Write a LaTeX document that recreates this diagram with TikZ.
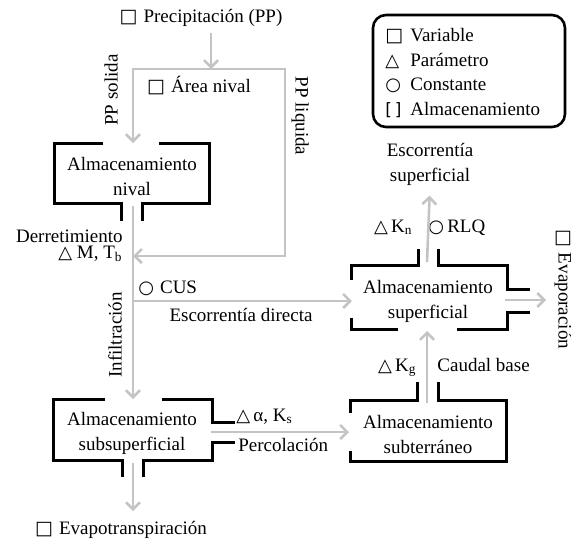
\documentclass[tikz,border=0pt]{standalone}
\usepackage{fontspec}
\setmainfont{Liberation Serif}
\newfontfamily\symfont{DejaVu Sans}
\usetikzlibrary{arrows.meta}
\definecolor{flowgray}{RGB}{196,196,196}
\newcommand{\symvar}{{\symfont\fontsize{9.5}{9.5}\selectfont □}}
\newcommand{\sympar}{{\symfont\fontsize{9}{9}\selectfont △}}
\newcommand{\symcon}{{\symfont\fontsize{9}{9}\selectfont ○}}
\newcommand{\symsto}{{\symfont\fontsize{8.5}{8.5}\selectfont [\,]}}

\begin{document}
\begin{tikzpicture}[
  x=0.5pt, y=-0.5pt,
  font=\fontsize{9.5}{12.5}\selectfont,
  wall/.style={draw=black,line width=1.5pt},
  flow/.style={draw=flowgray,line width=1.3pt,-{Straight Barb[length=3.5pt,width=7pt]}},
  store/.style={align=center,inner sep=0pt},
  lbl/.style={inner sep=0pt,text height=6.5pt,text depth=2pt}
]
  \useasboundingbox (0,0) rectangle (571,541);

  \node[lbl] (precip) at (201,18) {\symvar\hspace{3pt}Precipitación (PP)};
  \node[lbl] (snow-area) at (199,88) {\symvar\hspace{3pt}Área nival};
  \node[lbl,rotate=90] (pp-solid) at (113,90) {PP solida};
  \node[lbl,rotate=-90] (pp-liquid) at (300,116) {PP liquida};

  \node[store] (snow-store) at (132,176) {Almacenamiento\\nival};
  \node[lbl,anchor=east] (melt) at (123,238) {Derretimiento};
  \node[lbl,anchor=east] (melt-param) at (123,254) {\sympar\ M, T\textsubscript{b}};
  \node[lbl,anchor=west] (cus) at (138,289) {\symcon\hspace{3pt}CUS};
  \node[lbl] (direct-runoff) at (241,317) {Escorrentía directa};
  \node[lbl,rotate=90] (infiltr) at (117,335) {Infiltración};

  \node[store] (subsurf-store) at (132,433) {Almacenamiento\\subsuperficial};
  \node[lbl,anchor=west] (perc-param) at (236,417) {\sympar\,α, K\textsubscript{s}};
  \node[lbl,anchor=west] (perc) at (238,447) {Percolación};
  \node[lbl] (evapotransp) at (121,530) {\symvar\hspace{3pt}Evapotranspiración};

  \node[store] (ground-store) at (428,434) {Almacenamiento\\subterráneo};
  \node[lbl,anchor=east] (kg) at (417,367) {\sympar\,K\textsubscript{g}};
  \node[lbl,anchor=west] (baseflow) at (437,367) {Caudal base};

  \node[store] (surf-store) at (428,301) {Almacenamiento\\superficial};
  \node[lbl,rotate=-90] (evap) at (563,289) {\symvar\hspace{3pt}Evaporación};
  \node[lbl,anchor=east] (kn) at (413,228) {\sympar\,K\textsubscript{n}};
  \node[lbl,anchor=west] (rlq) at (428,228) {\symcon\,RLQ};
  \node[store] (surf-runoff) at (430,164) {Escorrentía\\superficial};

  \draw[wall,line width=1.3pt,rounded corners=6.5pt] (373,15) rectangle (565,127);
  \node[lbl,anchor=west] (key-var) at (385,37) {\makebox[12.5pt][l]{\symvar}Variable};
  \node[lbl,anchor=west] (key-par) at (385,62) {\makebox[12.5pt][l]{\sympar}Parámetro};
  \node[lbl,anchor=west] (key-con) at (385,86) {\makebox[12.5pt][l]{\symcon}Constante};
  \node[lbl,anchor=west] (key-sto) at (385,111) {\makebox[12.5pt][l]{\symsto}Almacenamiento};

  \draw[wall] (103,143) -- (54,143) -- (54,203) -- (121,203) -- (121,221);
  \draw[wall] (159,143) -- (209,143) -- (209,203) -- (142,203) -- (142,221);

  \draw[wall] (105,399) -- (53,399) -- (53,460) -- (122,460) -- (122,477);
  \draw[wall] (162,399) -- (212,399) -- (212,422) -- (235,422);
  \draw[wall] (235,442) -- (212,442) -- (212,460) -- (143,460) -- (143,477);

  \draw[wall] (351,280) -- (351,265) -- (418,265) -- (418,249);
  \draw[wall] (438,249) -- (438,265) -- (507,265) -- (507,289) -- (530,289);
  \draw[wall] (530,312) -- (507,312) -- (507,329) -- (457,329);
  \draw[wall] (398,329) -- (351,329) -- (351,318);

  \draw[wall] (350,413) -- (350,400) -- (417,400) -- (417,382);
  \draw[wall] (438,382) -- (438,400) -- (506,400) -- (506,461) -- (350,461) -- (350,451);

  \coordinate (split) at (211,69);
  \coordinate (snow-in) at (133,143);
  \coordinate (snow-out) at (133,206);
  \coordinate (melt-in) at (133,256);
  \coordinate (liquid-turn) at (285,256);
  \coordinate (direct-split) at (133,301);
  \coordinate (surf-in) at (352,301);
  \coordinate (subsurf-in) at (133,399);
  \coordinate (subsurf-out) at (211,432);
  \coordinate (subsurf-down) at (133,463);
  \coordinate (ground-in) at (349,432);
  \coordinate (ground-out) at (427,403);
  \coordinate (surf-bottom) at (427,331);
  \coordinate (surf-top) at (427,262);
  \coordinate (surf-out) at (505,300);

  \draw[flow,shorten <=3pt] (precip.south -| split) -- (split);
  \draw[flow] (split) -| (snow-in);
  \draw[flow] (split) -| (liquid-turn) -- (melt-in);
  \draw[flow] (snow-out) -- (subsurf-in);
  \draw[flow] (direct-split) -- (surf-in);
  \draw[flow] (subsurf-out) -- (ground-in);
  \draw[flow,shorten >=5pt] (subsurf-down) -- (subsurf-down |- evapotransp.north);
  \draw[flow] (ground-out) -- (surf-bottom);
  \draw[flow,shorten >=5pt] (surf-top) -- (surf-runoff.south);
  \draw[flow,shorten >=4pt] (surf-out) -- (surf-out -| evap.south);
\end{tikzpicture}
\end{document}
